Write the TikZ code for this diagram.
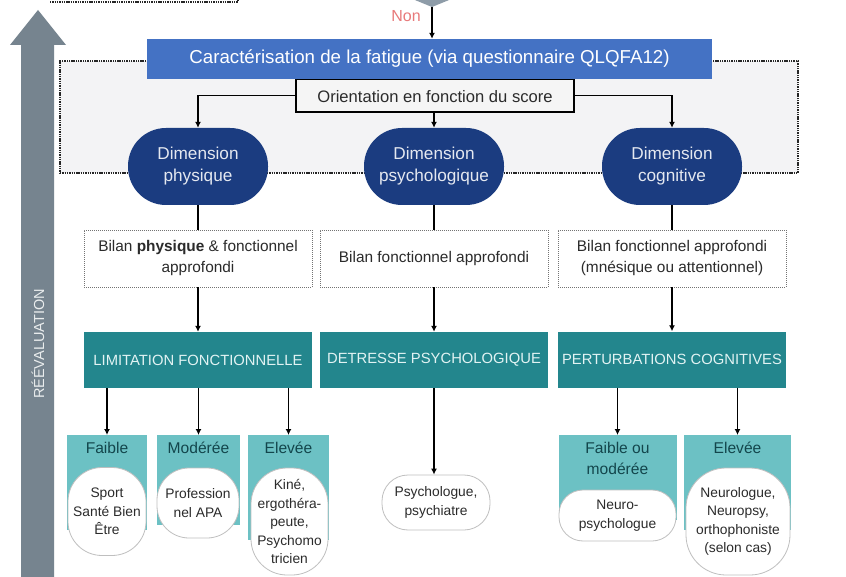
\documentclass[tikz,border=0pt]{standalone}
\usepackage{fontspec}
\setmainfont{Liberation Sans}
\usetikzlibrary{arrows.meta}

\definecolor{bluebox}{HTML}{4472C4}
\definecolor{navy}{HTML}{1B3C80}
\definecolor{tealdark}{HTML}{23868D}
\definecolor{teallight}{HTML}{6CC1C4}
\definecolor{tealtext}{HTML}{E2F3F3}
\definecolor{cattext}{HTML}{13464C}
\definecolor{reevgray}{HTML}{76848F}
\definecolor{decgray}{HTML}{8E9CA8}
\definecolor{regionbg}{HTML}{F3F3F5}
\definecolor{nonred}{HTML}{E8797A}
\definecolor{bodytext}{HTML}{2B2B2B}

\newcommand{\fsz}[2]{\fontsize{#1}{#2}\selectfont}

\tikzset{
  arr/.style={draw=black, line width=1.4pt, -{Latex[length=6pt,width=6pt]}},
  link/.style={draw=black, line width=1.4pt},
  bigdot/.style={draw=black!85, line width=1.7pt, dash pattern=on 1.4pt off 0.9pt},
  dimnode/.style={fill=navy, text=white!88!navy, rounded corners=38pt,
    minimum width=140pt, minimum height=77pt, align=center, font=\fsz{17.2}{22}},
  bilanbox/.style={draw=black!55, line width=0.9pt, dash pattern=on 1pt off 1pt,
    fill=white, minimum width=228pt, minimum height=57pt, align=center,
    text=bodytext, font=\fsz{15.4}{21}},
  tealbox/.style={fill=tealdark, text=tealtext, minimum width=228pt,
    minimum height=56pt, align=center, font=\fsz{14.8}{18}},
  catbox/.style={fill=teallight, anchor=north, inner sep=0pt},
  cattitle/.style={anchor=north, text=cattext, align=center, font=\fsz{15.6}{21}, inner sep=0pt, yshift=-7pt},
  pill/.style={fill=white, draw=black!25, line width=0.8pt, rounded corners=#1,
    align=center, text=bodytext, font=\fsz{13.8}{18.5}, inner sep=1pt}
}

\begin{document}
\begin{tikzpicture}[x=1pt,y=-1pt]
\useasboundingbox (0,0) rectangle (846,577);
\fill[white] (0,0) rectangle (846,577);

% previous block: bottom edge of its dotted frame
\draw[bigdot] (50,2) -- (238,2) -- (238,-4);

% decision shape above, cut by the page edge
\fill[decgray] (410,-2) -- (454,-2) -- (432,7) -- cycle;
\coordinate (dtip) at (432,7);

% re-evaluation arrow on the left
\fill[reevgray] (21,577) -- (21,45) -- (10,45) -- (38,10) -- (66,45) -- (54,45) -- (54,577) -- cycle;
\node[rotate=90, text=white!85!reevgray, font=\fsz{14.5}{16}] (reev) at (38,344) {RÉÉVALUATION};

% dotted region around the characterisation stage
\node[bigdot, fill=regionbg, minimum width=738pt, minimum height=112pt, inner sep=0pt] (region) at (429,117) {};

% orientation box and characterisation banner
\node[draw=black, line width=1.2pt, fill=white!96!black, minimum width=278pt, minimum height=33pt,
      inner sep=0pt] (orient) at (435,95.5) {};
\node[fill=bluebox, text=white, minimum width=565pt, minimum height=40pt, inner sep=0pt,
      font=\fsz{18.7}{20}] (carac) at (429.5,59) {Caractérisation de la fatigue (via questionnaire QLQFA12)};
\node[text=bodytext, font=\fsz{16.6}{18}] (orientlbl) at (435,96.5) {Orientation en fonction du score};

\node[text=nonred, font=\fsz{16}{18}] (non) at (406,16.5) {Non};
\draw[arr] (dtip) -- (carac.north -| dtip);

% three dimensions
\node[dimnode] (dphys) at (198,166.5) {Dimension\\physique};
\node[dimnode] (dpsy)  at (434,166.5) {Dimension\\psychologique};
\node[dimnode] (dcog)  at (672,166.5) {Dimension\\cognitive};

\draw[arr] (orient.west) -| (dphys.north);
\draw[arr] (orient.south -| dpsy.north) -- (dpsy.north);
\draw[arr] (orient.east) -| (dcog.north);

% assessments
\node[bilanbox] (bphys) at (198,258.5) {Bilan \textbf{physique} \& fonctionnel\\approfondi};
\node[bilanbox] (bpsy)  at (434,258.5) {Bilan fonctionnel approfondi};
\node[bilanbox] (bcog)  at (672,258.5) {Bilan fonctionnel approfondi\\(mnésique ou attentionnel)};

\draw[link] (dphys.south) -- (bphys.north);
\draw[link] (dpsy.south) -- (bpsy.north);
\draw[link] (dcog.south) -- (bcog.north);

% outcomes
\node[tealbox] (lim) at (198,360) {LIMITATION FONCTIONNELLE};
\node[tealbox] (det) at (434,360) {DETRESSE PSYCHOLOGIQUE};
\node[tealbox] (per) at (672,359.5) {PERTURBATIONS COGNITIVES};

\draw[arr] (bphys.south) -- (lim.north);
\draw[arr] (bpsy.south) -- (det.north);
\draw[arr] (bcog.south) -- (per.north);

% severity levels
\node[catbox, minimum width=80pt, minimum height=95pt] (cfaible) at (107,435) {};
\node[catbox, minimum width=83pt, minimum height=90pt] (cmod) at (198.5,435) {};
\node[catbox, minimum width=81pt, minimum height=105pt] (celev) at (288.5,435) {};
\node[catbox, minimum width=118pt, minimum height=85pt] (cfmod) at (617.5,435) {};
\node[catbox, minimum width=107pt, minimum height=95pt] (celev2) at (737.5,435) {};

\node[cattitle] (tfaible) at (cfaible.north) {Faible};
\node[cattitle] (tmod) at (cmod.north) {Modérée};
\node[cattitle] (telev) at (celev.north) {Elevée};
\node[cattitle] (tfmod) at (cfmod.north) {Faible ou\\modérée};
\node[cattitle] (telev2) at (celev2.north) {Elevée};

\draw[arr] (lim.south -| cfaible.north) -- (cfaible.north);
\draw[arr] (lim.south -| cmod.north) -- (cmod.north);
\draw[arr] (lim.south -| celev.north) -- (celev.north);
\draw[arr] (per.south -| cfmod.north) -- (cfmod.north);
\draw[arr] (per.south -| celev2.north) -- (celev2.north);

% professionals
\node[pill=34pt, minimum width=78pt, minimum height=88pt] (psport) at (107,511.5) {Sport\\Santé Bien\\Être};
\node[pill=32pt, minimum width=82pt, minimum height=70pt] (papa) at (198,503) {Profession\\nel APA};
\node[pill=36pt, minimum width=77pt, minimum height=107pt] (pkine) at (289.5,521.5) {Kiné,\\ergothéra-\\peute,\\Psychomo\\tricien};
\node[pill=26pt, minimum width=108pt, minimum height=55pt] (ppsy) at (436,502.5) {Psychologue,\\psychiatre};
\node[pill=24pt, minimum width=117pt, minimum height=51pt] (pneuro) at (617.5,515.5) {Neuro-\\psychologue};
\node[pill=40pt, minimum width=104pt, minimum height=107pt] (pneurol) at (738,521.5) {Neurologue,\\Neuropsy,\\orthophoniste\\(selon cas)};

\draw[arr] (det.south) -- (det.south |- ppsy.north);
\end{tikzpicture}
\end{document}
